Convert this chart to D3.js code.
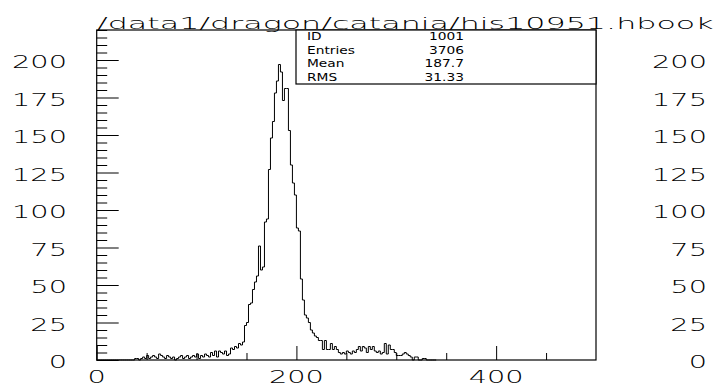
<!DOCTYPE html>
<html>
<head>
<meta charset="utf-8">
<script src="https://cdn.jsdelivr.net/npm/d3@7"></script>
<style>
  html, body { margin: 0; padding: 0; background: #fff; }
  svg { display: block; }
  text { fill: #000; }
</style>
</head>
<body>
<script>
// ---- data ---------------------------------------------------------------
const title = "/data1/dragon/catania/his10951.hbook";

const binWidth = 2;               // channel width of the histogram
const xDomain = [0, 500];
const yDomain = [0, 220];

// counts per 2-channel bin, starting at channel 0 (bins past 340 are empty)
const counts = [
  0, 0, 0, 0, 0, 0, 0, 0, 0, 0,
  0, 0, 0, 0, 0, 0, 0, 0, 0, 1,
  1, 0, 1, 2, 1, 3, 1, 2, 3, 2,
  1, 4, 3, 2, 1, 3, 2, 1, 2, 0,
  1, 2, 3, 1, 2, 3, 1, 2, 3, 2,
  4, 1, 3, 2, 4, 3, 2, 5, 3, 6,
  2, 6, 5, 4, 6, 3, 4, 8, 7, 9,
  8, 11, 10, 12, 23, 25, 37, 38, 47, 52,
  56, 76, 60, 62, 92, 94, 127, 148, 159, 178,
  186, 197, 192, 173, 181, 181, 153, 130, 118, 110,
  88, 86, 54, 40, 30, 28, 25, 20, 18, 16,
  15, 13, 13, 7, 13, 7, 7, 11, 7, 9,
  7, 5, 4, 5, 4, 6, 5, 4, 6, 5,
  7, 9, 6, 9, 8, 5, 9, 7, 9, 6,
  5, 6, 4, 5, 11, 4, 10, 7, 7, 5,
  3, 3, 3, 4, 5, 4, 3, 2, 0, 2,
  2, 0, 0, 1, 1, 0, 0, 0, 0, 0
];

const xLabelTicks = [0, 200, 400];
const xMinorTicks = [50, 100, 150, 250, 300, 350, 450];
const yLabelTicks = [0, 25, 50, 75, 100, 125, 150, 175, 200];
const yMinorTicks = d3.range(0, 221, 5);

const statLabels = ["ID", "Entries", "Mean", "RMS"];
const statValues = ["1001", "3706", "187.7", "31.33"];

// ---- layout -------------------------------------------------------------
const W = 714, H = 390;
const frame = { left: 96.7, right: 596, top: 30, bottom: 360 };

const svg = d3.select("body").append("svg")
  .attr("width", W).attr("height", H);

const x = d3.scaleLinear().domain(xDomain).range([frame.left, frame.right]);
const y = d3.scaleLinear().domain(yDomain).range([frame.bottom, frame.top]);

const LABEL_FONT = "'DejaVu Sans', sans-serif";
const LABEL_SIZE = 17;
const LABEL_WEIGHT = 200;

// width of a string, used to fit the wide stretched lettering
function measure(str, size, family, weight) {
  const t = svg.append("text")
    .attr("font-family", family).attr("font-size", size)
    .attr("font-weight", weight).text(str);
  const w = t.node().getComputedTextLength();
  t.remove();
  return w;
}

function stretched(parent, str, px, py, anchor, size, family, weight, sx) {
  const g = parent.append("g")
    .attr("transform", `translate(${px},${py}) scale(${sx},1)`);
  g.append("text")
    .attr("text-anchor", anchor)
    .attr("font-family", family)
    .attr("font-size", size)
    .attr("font-weight", weight)
    .text(str);
  return g;
}

const digitScale = 55 / measure("000", LABEL_SIZE, LABEL_FONT, LABEL_WEIGHT);

// ---- histogram outline --------------------------------------------------
const pts = counts.map((c, i) => [i * binWidth, c]);
pts.push([counts.length * binWidth, counts[counts.length - 1]]);

const line = d3.line()
  .x(d => x(d[0]))
  .y(d => y(d[1]))
  .curve(d3.curveStepAfter);

svg.append("path")
  .attr("d", line(pts))
  .attr("fill", "none")
  .attr("stroke", "#000")
  .attr("stroke-width", 1);

// ---- axis ticks (pointing into the frame) -------------------------------
const axisStyle = g => {
  g.select(".domain").remove();
  g.selectAll("line").attr("stroke", "#000").attr("stroke-width", 1);
  g.selectAll("text").remove();
};

svg.append("g").attr("transform", `translate(0,${frame.bottom})`)
  .call(d3.axisBottom(x).tickValues(xLabelTicks).tickSize(-14).tickFormat(""))
  .call(axisStyle);
svg.append("g").attr("transform", `translate(0,${frame.bottom})`)
  .call(d3.axisBottom(x).tickValues(xMinorTicks).tickSize(-7).tickFormat(""))
  .call(axisStyle);

svg.append("g").attr("transform", `translate(${frame.left},0)`)
  .call(d3.axisLeft(y).tickValues(yMinorTicks.filter(v => v % 25 !== 0)).tickSize(-10.5).tickFormat(""))
  .call(axisStyle);
svg.append("g").attr("transform", `translate(${frame.left},0)`)
  .call(d3.axisLeft(y).tickValues(yLabelTicks).tickSize(-22).tickFormat(""))
  .call(axisStyle);

// ---- frame --------------------------------------------------------------
svg.append("rect")
  .attr("x", frame.left).attr("y", frame.top)
  .attr("width", frame.right - frame.left)
  .attr("height", frame.bottom - frame.top)
  .attr("fill", "none").attr("stroke", "#000").attr("stroke-width", 1.2);

// ---- tick labels --------------------------------------------------------
const labels = svg.append("g");
xLabelTicks.forEach(v => {
  stretched(labels, String(v), x(v), 383, "middle",
    LABEL_SIZE, LABEL_FONT, LABEL_WEIGHT, digitScale);
});
yLabelTicks.forEach(v => {
  stretched(labels, String(v), 67, y(v) + 8.2, "end",
    LABEL_SIZE, LABEL_FONT, LABEL_WEIGHT, digitScale);
  stretched(labels, String(v), 707, y(v) + 8.2, "end",
    LABEL_SIZE, LABEL_FONT, LABEL_WEIGHT, digitScale);
});

// ---- title --------------------------------------------------------------
const titleSize = 16.5;
const titleScale = 617 / measure(title, titleSize, LABEL_FONT, LABEL_WEIGHT);
stretched(svg, title, 97, 28.5, "start", titleSize, LABEL_FONT, LABEL_WEIGHT, titleScale);

// ---- statistics box -----------------------------------------------------
const box = { x0: 296, x1: frame.right, y0: frame.top, y1: 84 };
svg.append("rect")
  .attr("x", box.x0).attr("y", box.y0)
  .attr("width", box.x1 - box.x0).attr("height", box.y1 - box.y0)
  .attr("fill", "#fff").attr("stroke", "#000").attr("stroke-width", 1.2);

const STAT_FONT = "'DejaVu Sans', sans-serif";
const STAT_SIZE = 10;
const statScale = 48 / measure("Entries", STAT_SIZE, STAT_FONT, 400);
const rowH = (box.y1 - box.y0) / statLabels.length;
statLabels.forEach((lab, i) => {
  const by = box.y0 + rowH * (i + 0.5) + 3.6;
  stretched(svg, lab, 307, by, "start", STAT_SIZE, STAT_FONT, 400, statScale);
  stretched(svg, statValues[i], 464, by, "end", STAT_SIZE, STAT_FONT, 400, statScale);
});
</script>
</body>
</html>
